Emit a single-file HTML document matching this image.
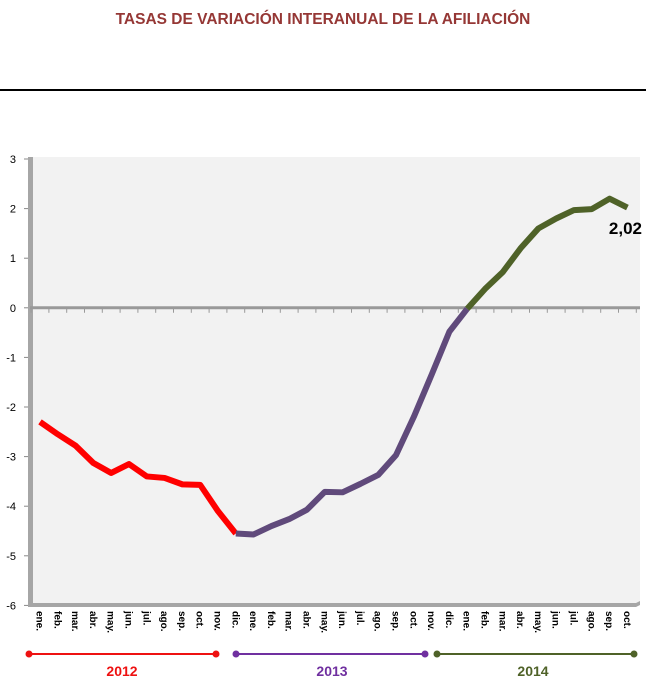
<!DOCTYPE html>
<html><head><meta charset="utf-8"><style>
body{margin:0;background:#fff;width:646px;height:683px;overflow:hidden;font-family:"Liberation Sans",sans-serif}
</style></head><body>
<svg width="646" height="683" xmlns="http://www.w3.org/2000/svg">
<text x="323" y="24" text-anchor="middle" font-size="15.5" font-weight="bold" fill="#953735">TASAS DE VARIACIÓN INTERANUAL DE LA AFILIACIÓN</text>
<rect x="0" y="89" width="646" height="2" fill="#000"/>
<rect x="33" y="157" width="607" height="447" fill="#f2f2f2"/>
<g id="axes"></g>
<g id="series"></g>
<g id="xlabels"></g>
<g id="years"></g>
</svg>
<script>
const months=["ene.","feb.","mar.","abr.","may.","jun.","jul.","ago.","sep.","oct.","nov.","dic."];
const v2012=[-2.3,-2.55,-2.78,-3.13,-3.33,-3.15,-3.4,-3.43,-3.56,-3.57,-4.1,-4.55];
const v2013=[-4.57,-4.4,-4.26,-4.07,-3.71,-3.72,-3.55,-3.37,-2.97,-2.2,-1.35,-0.48];
const v2014=[-0.02,0.38,0.72,1.2,1.6,1.8,1.97,1.99,2.2,2.02];
const yTicks=[3,2,1,0,-1,-2,-3,-4,-5,-6];
const NS="http://www.w3.org/2000/svg";
const X=i=>40+i*17.8, Y=v=>307.8-v*49.6;
function mk(t,a,p){const e=document.createElementNS(NS,t);for(const k in a)e.setAttribute(k,a[k]);p.appendChild(e);return e;}
const ax=document.getElementById('axes');
let lw=mk('rect',{x:28,y:157,width:5,height:450,fill:'#a6a6a6'},ax);


let bw=mk('polygon',{points:'28,603 636,603 640,601 640,605 636,607 28,607',fill:'#a6a6a6'},ax);


yTicks.forEach(t=>{
 const y=Y(t);
 const tk=mk('line',{x1:24,x2:28,y1:y,y2:y,stroke:'#888'},ax);
 
 
 const tx=mk('text',{x:16,y:y+4,'font-size':11,'text-anchor':'end',fill:'#000'},ax);
 tx.textContent=String(t);
 
 
});
const zl=mk('line',{x1:30,x2:640,y1:Y(0),y2:Y(0),stroke:'#999','stroke-width':3},ax);


for(let i=0;i<35;i++){const x=X(i)-8.9;const t=mk('line',{x1:x,x2:x,y1:Y(0),y2:Y(0)+5,stroke:'#999'},ax);
 
 }
const s=document.getElementById('series');
function line(vals,off,color,name){
 const pts=vals.map((v,i)=>X(i+off)+','+Y(v)).join(' ');
 const p=mk('polyline',{points:pts,fill:'none',stroke:color,'stroke-width':6,'stroke-linejoin':'round'},s);
 
 
}
line(v2012,0,'#ff0000','series-2012');
line([v2012[11]].concat(v2013,[v2014[0]]),11,'#604a7b','series-2013');
line(v2014,24,'#4f6228','series-2014');
const lab=mk('text',{x:642,y:234,'font-size':17,'font-weight':'bold','text-anchor':'end',fill:'#000'},s);
lab.textContent=String(v2014[v2014.length-1].toFixed(2)).replace('.',',');


const xl=document.getElementById('xlabels');
const allMonths=months.concat(months,months.slice(0,10));
allMonths.forEach((m,i)=>{
 const t=mk('text',{x:0,y:0,'font-size':10,'font-weight':'bold',fill:'#000',transform:`translate(${X(i)-3.5},611) rotate(90)`},xl);
 t.textContent=m;
 
 
});
const yr=document.getElementById('years');
[[29,216,'#ee1111','2012',122],[236,425,'#7030a0','2013',332],[437,634,'#4f6228','2014',533]].forEach(([a,b,c,t,tx])=>{
 const l=mk('line',{x1:a,x2:b,y1:654,y2:654,stroke:c,'stroke-width':2},yr);
 
 
 [a,b].forEach(x=>{const d=mk('circle',{cx:x,cy:654,r:3.5,fill:c},yr);
  
  });
 const tt=mk('text',{x:tx,y:676,'font-size':14,'font-weight':'bold','text-anchor':'middle',fill:c},yr);
 tt.textContent=t;
 
 
});
</script>
</body></html>
